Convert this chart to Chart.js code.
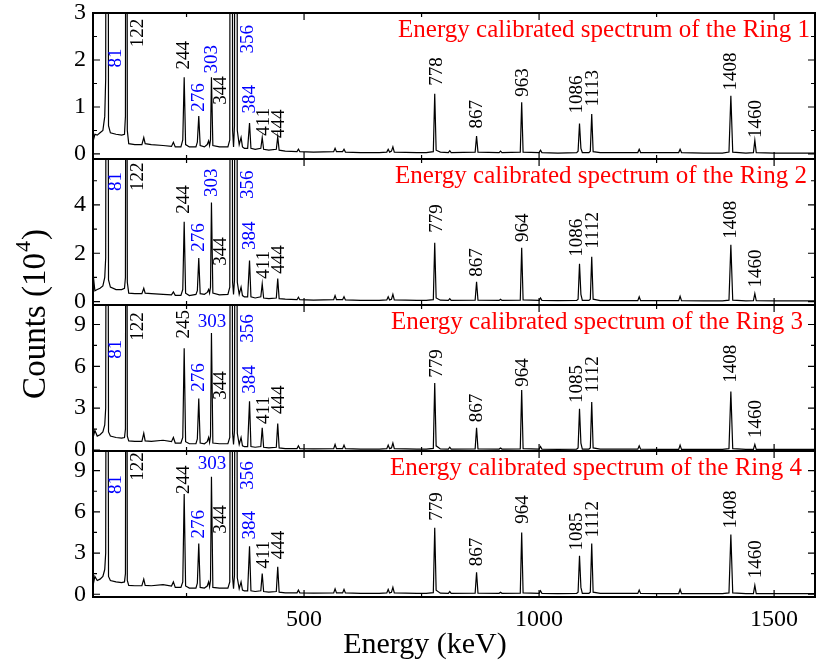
<!DOCTYPE html>
<html>
<head>
<meta charset="utf-8">
<script src="https://cdn.jsdelivr.net/npm/chart.js@4.4.0/dist/chart.umd.min.js"></script>
<style>
  html, body { margin: 0; padding: 0; background: #fff; }
  #wrap { width: 816px; height: 665px; }
</style>
</head>
<body>
<div id="wrap"><canvas id="spectra" width="816" height="665"></canvas></div>
<script>
// energy axis (keV), shared by the four rings
const energy = [
  50, 52, 55, 60, 66, 72, 76, 78, 81, 84, 88,
  100, 112, 118, 120, 122, 124, 127,
  140, 155, 159, 162, 175, 200, 218, 222, 226, 238, 242, 245, 248, 256,
  270, 273, 276, 279, 288, 294, 297, 299, 301, 303, 306, 320, 338,
  342, 345, 348, 350, 352, 355, 358, 362, 366, 369, 373,
  380, 384, 387, 396, 408, 411, 414, 425, 441, 444, 447, 460,
  485, 488, 491, 520, 563, 566, 569, 582, 585, 588, 620, 660, 676, 679, 682, 686, 689, 692, 740, 760, 775, 778, 781, 790,
  807, 810, 813, 864, 867, 870, 915, 918, 921, 960, 963, 966, 1000, 1003, 1006, 1040,
  1080, 1083, 1086, 1089, 1092, 1106, 1109, 1112, 1115, 1130,
  1170, 1210, 1213, 1216, 1260, 1297, 1300, 1303, 1350, 1390, 1404, 1408, 1412, 1440, 1456, 1459, 1462, 1500, 1540, 1590
];

// counts in units of 10^4
const ring1 = [
  0.50, 0.30, 0.42, 0.40, 0.45, 0.50, 0.80, 1.60, 25, 0.60, 0.45,
  0.42, 0.40, 0.42, 0.80, 20, 0.50, 0.22,
  0.20, 0.20, 0.35, 0.22, 0.20, 0.18, 0.16, 0.25, 0.15, 0.15, 0.30, 1.63, 0.20, 0.15,
  0.15, 0.25, 0.81, 0.18, 0.15, 0.20, 0.28, 0.18, 0.30, 1.63, 0.18, 0.15, 0.15,
  0.30, 30, 0.50, 0.15, 0.60, 40, 0.50, 0.20, 0.35, 0.15, 0.12,
  0.12, 0.66, 0.12, 0.10, 0.12, 0.35, 0.10, 0.08, 0.10, 0.37, 0.08, 0.06,
  0.05, 0.10, 0.05, 0.04, 0.05, 0.12, 0.05, 0.05, 0.10, 0.04, 0.03, 0.03, 0.04, 0.10, 0.04, 0.06, 0.15, 0.04, 0.03, 0.03, 0.05, 1.28, 0.08, 0.04,
  0.03, 0.07, 0.03, 0.04, 0.38, 0.04, 0.03, 0.06, 0.03, 0.04, 1.10, 0.04, 0.03, 0.08, 0.03, 0.02,
  0.03, 0.06, 0.65, 0.12, 0.03, 0.03, 0.06, 0.85, 0.05, 0.03,
  0.03, 0.03, 0.10, 0.03, 0.03, 0.03, 0.10, 0.03, 0.02, 0.02, 0.04, 1.24, 0.04, 0.02, 0.03, 0.29, 0.03, 0.02, 0.02, 0.02
];
const ring2 = [
  0.60, 1.00, 0.45, 0.50, 0.55, 0.65, 1.00, 1.80, 40, 0.90, 0.60,
  0.50, 0.50, 0.55, 1.00, 30, 0.80, 0.35,
  0.33, 0.33, 0.55, 0.35, 0.33, 0.30, 0.28, 0.40, 0.26, 0.26, 0.50, 3.30, 0.35, 0.25,
  0.30, 0.45, 1.80, 0.33, 0.30, 0.38, 0.50, 0.35, 0.60, 4.10, 0.35, 0.28, 0.30,
  0.60, 40, 0.80, 0.30, 0.90, 50, 0.80, 0.30, 0.60, 0.25, 0.20,
  0.20, 1.70, 0.20, 0.15, 0.20, 0.74, 0.15, 0.12, 0.15, 0.95, 0.12, 0.10,
  0.08, 0.18, 0.08, 0.06, 0.08, 0.25, 0.08, 0.08, 0.20, 0.07, 0.05, 0.05, 0.07, 0.20, 0.07, 0.10, 0.30, 0.07, 0.05, 0.05, 0.08, 2.43, 0.15, 0.06,
  0.05, 0.12, 0.05, 0.06, 0.82, 0.06, 0.05, 0.10, 0.05, 0.06, 2.23, 0.07, 0.05, 0.15, 0.05, 0.04,
  0.05, 0.10, 1.57, 0.30, 0.05, 0.05, 0.10, 1.86, 0.10, 0.04,
  0.04, 0.04, 0.20, 0.04, 0.04, 0.04, 0.22, 0.04, 0.03, 0.03, 0.06, 2.35, 0.06, 0.03, 0.04, 0.33, 0.04, 0.03, 0.03, 0.03
];
const ring3 = [
  2.20, 1.00, 1.40, 1.00, 1.10, 1.30, 1.80, 3.00, 60, 1.30, 1.00,
  0.90, 0.85, 0.90, 1.50, 50, 1.00, 0.65,
  0.62, 0.62, 1.20, 0.65, 0.62, 0.70, 0.60, 0.90, 0.50, 0.50, 0.90, 7.30, 0.60, 0.45,
  0.45, 0.80, 3.70, 0.50, 0.45, 0.60, 0.90, 0.55, 1.00, 8.40, 0.50, 0.45, 0.45,
  0.90, 60, 1.20, 0.40, 1.40, 70, 1.20, 0.40, 0.90, 0.30, 0.25,
  0.25, 3.50, 0.25, 0.20, 0.25, 1.60, 0.20, 0.15, 0.20, 1.90, 0.15, 0.10,
  0.10, 0.30, 0.10, 0.08, 0.10, 0.40, 0.10, 0.10, 0.35, 0.10, 0.07, 0.07, 0.10, 0.35, 0.10, 0.15, 0.50, 0.10, 0.07, 0.07, 0.12, 4.80, 0.30, 0.08,
  0.07, 0.20, 0.07, 0.08, 1.60, 0.08, 0.07, 0.15, 0.07, 0.08, 4.30, 0.10, 0.07, 0.25, 0.07, 0.05,
  0.07, 0.15, 2.95, 0.50, 0.07, 0.07, 0.15, 3.45, 0.15, 0.06,
  0.06, 0.06, 0.30, 0.06, 0.05, 0.05, 0.35, 0.05, 0.04, 0.04, 0.10, 4.20, 0.10, 0.04, 0.05, 0.40, 0.05, 0.04, 0.04, 0.04
];
const ring4 = [
  2.00, 0.80, 1.30, 1.00, 1.10, 1.30, 1.80, 3.00, 60, 1.30, 1.00,
  0.90, 0.85, 0.90, 1.50, 50, 1.00, 0.65,
  0.62, 0.62, 1.10, 0.65, 0.62, 0.70, 0.60, 0.90, 0.50, 0.50, 0.90, 7.30, 0.60, 0.45,
  0.45, 0.80, 3.70, 0.50, 0.45, 0.60, 0.90, 0.55, 1.00, 8.55, 0.50, 0.45, 0.45,
  0.90, 60, 1.20, 0.40, 1.40, 70, 1.20, 0.40, 0.90, 0.30, 0.25,
  0.25, 3.50, 0.25, 0.20, 0.25, 1.50, 0.20, 0.15, 0.20, 2.00, 0.15, 0.10,
  0.10, 0.30, 0.10, 0.08, 0.10, 0.40, 0.10, 0.10, 0.35, 0.10, 0.07, 0.07, 0.10, 0.35, 0.10, 0.15, 0.50, 0.10, 0.07, 0.07, 0.12, 4.85, 0.30, 0.08,
  0.07, 0.20, 0.07, 0.08, 1.60, 0.08, 0.07, 0.15, 0.07, 0.08, 4.50, 0.10, 0.07, 0.25, 0.07, 0.05,
  0.07, 0.15, 2.80, 0.50, 0.07, 0.07, 0.15, 3.70, 0.15, 0.06,
  0.06, 0.06, 0.30, 0.06, 0.05, 0.05, 0.35, 0.05, 0.04, 0.04, 0.10, 4.35, 0.10, 0.04, 0.05, 0.65, 0.05, 0.04, 0.04, 0.04
];

// axes
const xTicks = [500, 1000, 1500];
const yTicks1 = [0, 1, 2, 3];
const yTicks2 = [0, 2, 4];
const yTicks3 = [0, 3, 6, 9];
const yTicks4 = [0, 3, 6, 9];
const ringNames = ['Ring 1', 'Ring 2', 'Ring 3', 'Ring 4'];

// peak labels: energy where the label sits, text, and the height of its foot
const labelE = [101, 146, 245, 277, 304, 324, 381, 384, 414, 446, 782, 868, 966, 1080, 1114, 1408, 1462];
const labelBlue = [0, 3, 4, 6, 7];
const labels1 = ['81', '122', '244', '276', '303', '344', '356', '384', '411', '444', '778', '867', '963', '1086', '1113', '1408', '1460'];
const labels2 = ['81', '122', '244', '276', '303', '344', '356', '384', '411', '444', '779', '867', '964', '1086', '1112', '1408', '1460'];
const labels3 = ['81', '122', '245', '276', '303', '344', '356', '384', '411', '444', '779', '867', '964', '1085', '1112', '1408', '1460'];
const labels4 = ['81', '122', '244', '276', '303', '344', '356', '384', '411', '444', '779', '867', '964', '1085', '1112', '1408', '1460'];
const labelY1 = [1.84, 2.27, 1.80, 0.90, 1.71, 1.05, 2.14, 0.86, 0.39, 0.34, 1.45, 0.54, 1.22, 0.86, 1.01, 1.35, 0.34];
const labelY2 = [4.58, 4.58, 3.63, 2.06, 4.33, 1.48, 4.25, 2.14, 0.95, 1.15, 2.85, 1.03, 2.47, 1.86, 2.19, 2.60, 0.58];
const labelY3 = [6.55, 7.84, 7.99, 4.17, 9.20, 3.60, 7.70, 4.03, 1.87, 2.59, 5.18, 2.00, 4.53, 3.38, 4.10, 4.82, 0.86];
const labelY4 = [7.30, 8.26, 7.30, 4.06, 9.50, 4.40, 7.60, 3.98, 1.88, 2.54, 5.36, 2.03, 5.14, 3.19, 4.13, 4.78, 1.16];
const flatLabel = [[], [], [4], [4]];   // labels written horizontally

const rings = [ring1, ring2, ring3, ring4];
const yTicks = [yTicks1, yTicks2, yTicks3, yTicks4];
const labelTexts = [labels1, labels2, labels3, labels4];
const labelYs = [labelY1, labelY2, labelY3, labelY4];
const yRange = [[-0.107, 3.0], [-0.14, 5.9], [-0.07, 10.4], [-0.2, 10.43]];
const titleRight = [810, 807, 803, 802];

const serif = '"Liberation Serif", "DejaVu Serif", serif';

const noPad = s => { s.paddingTop = 0; s.paddingBottom = 0; s.paddingLeft = 0; s.paddingRight = 0; };

const panels = {
  id: 'panels',
  beforeDatasetDraw(chart, args) {
    const ys = chart.scales[args.meta.yAxisID];
    const a = chart.chartArea;
    chart.ctx.save();
    chart.ctx.beginPath();
    chart.ctx.rect(a.left, ys.top, a.right - a.left, ys.bottom - ys.top);
    chart.ctx.clip();
  },
  afterDatasetDraw(chart) {
    chart.ctx.restore();
  },
  afterDraw(chart) {
    const ctx = chart.ctx;
    const a = chart.chartArea;
    const xs = chart.scales.x;
    const xStep = xTicks[1] - xTicks[0];
    const xMinor = xTicks.map(v => v - xStep / 2).concat([xTicks[xTicks.length - 1] + xStep / 2])
      .filter(v => v >= xs.min && v <= xs.max);

    ctx.save();
    for (let p = 0; p < 4; p++) {
      const ys = chart.scales['y' + (p + 1)];
      const top = ys.top, bot = ys.bottom;

      // ticks
      ctx.strokeStyle = '#000';
      ctx.lineWidth = 1.2;
      ctx.beginPath();
      const step = yTicks[p][1] - yTicks[p][0];
      const yMinor = yTicks[p].map(v => v + step / 2).filter(v => v <= ys.max);
      const yTick = (v, len) => {
        const y = ys.getPixelForValue(v);
        ctx.moveTo(a.left, y); ctx.lineTo(a.left + len, y);
        ctx.moveTo(a.right, y); ctx.lineTo(a.right - len, y);
      };
      yTicks[p].forEach(v => yTick(v, 7));
      yMinor.forEach(v => yTick(v, 4));
      const xTick = (v, len) => {
        const x = xs.getPixelForValue(v);
        ctx.moveTo(x, bot); ctx.lineTo(x, bot - len);
        ctx.moveTo(x, top); ctx.lineTo(x, top + len);
      };
      xTicks.forEach(v => xTick(v, 7));
      xMinor.forEach(v => xTick(v, 4));
      ctx.stroke();

      // frame
      ctx.lineWidth = 2;
      ctx.strokeRect(a.left, top, a.right - a.left, bot - top);

      // peak labels
      ctx.font = '19px ' + serif;
      labelTexts[p].forEach((t, i) => {
        ctx.fillStyle = labelBlue.includes(i) ? '#0000ff' : '#000';
        const x = xs.getPixelForValue(labelE[i]);
        const y = ys.getPixelForValue(labelYs[p][i]);
        if (flatLabel[p].includes(i)) {
          ctx.textAlign = 'center';
          ctx.textBaseline = 'middle';
          ctx.fillText(t, x, y);
        } else {
          ctx.save();
          ctx.translate(x, y);
          ctx.rotate(-Math.PI / 2);
          ctx.textAlign = 'left';
          ctx.textBaseline = 'middle';
          ctx.fillText(t, 0, 0);
          ctx.restore();
        }
      });

      // panel title
      ctx.fillStyle = '#ff0000';
      ctx.font = '25px ' + serif;
      ctx.textAlign = 'right';
      ctx.textBaseline = 'alphabetic';
      ctx.fillText('Energy calibrated spectrum of the ' + ringNames[p], titleRight[p], top + 24);
    }

    // axis titles
    ctx.fillStyle = '#000';
    ctx.font = '30px ' + serif;
    ctx.textAlign = 'center';
    ctx.textBaseline = 'alphabetic';
    ctx.fillText('Energy (keV)', 425, 653);

    ctx.save();
    ctx.translate(45, 314);
    ctx.rotate(-Math.PI / 2);
    ctx.textAlign = 'left';
    const main = 'Counts (10';
    ctx.font = '33px ' + serif;
    const w1 = ctx.measureText(main).width;
    const w3 = ctx.measureText(')').width;
    ctx.font = '22px ' + serif;
    const w2 = ctx.measureText('4').width + 2;
    const x0 = -(w1 + w2 + w3) / 2;
    ctx.font = '33px ' + serif;
    ctx.fillText(main, x0, 0);
    ctx.font = '22px ' + serif;
    ctx.fillText('4', x0 + w1 + 1, -15);
    ctx.font = '33px ' + serif;
    ctx.fillText(')', x0 + w1 + w2, 0);
    ctx.restore();

    ctx.restore();
  }
};

function yScale(p) {
  return {
    type: 'linear',
    position: 'left',
    stack: 'rings',
    stackWeight: 1,
    min: yRange[p][0],
    max: yRange[p][1],
    grid: { display: false, drawTicks: false },
    border: { display: false },
    afterBuildTicks: s => { s.ticks = yTicks[p].map(v => ({ value: v })); },
    afterFit: s => { s.width = 93; noPad(s); },
    ticks: {
      color: '#000',
      padding: 7,
      autoSkip: false,
      font: { family: serif, size: 24 },
      callback: v => String(v)
    }
  };
}

new Chart(document.getElementById('spectra'), {
  type: 'line',
  data: {
    datasets: rings.map((r, p) => ({
      label: ringNames[p],
      yAxisID: 'y' + (p + 1),
      data: energy.map((e, i) => ({ x: e, y: r[i] })),
      borderColor: '#000',
      borderWidth: 1.2,
      pointRadius: 0,
      tension: 0,
      fill: false
    }))
  },
  options: {
    responsive: false,
    animation: false,
    devicePixelRatio: 1,
    layout: { padding: { top: 13, right: 1, left: 0, bottom: 0 } },
    plugins: { legend: { display: false }, tooltip: { enabled: false } },
    scales: {
      x: {
        type: 'linear',
        position: 'bottom',
        min: 51,
        max: 1587,
        grid: { display: false, drawTicks: false },
        border: { display: false },
        afterBuildTicks: s => { s.ticks = xTicks.map(v => ({ value: v })); },
        afterFit: s => { s.height = 68; noPad(s); },
        ticks: {
          color: '#000',
          padding: 8,
          maxRotation: 0,
          autoSkip: false,
          font: { family: serif, size: 24 },
          callback: v => String(v)
        }
      },
      y4: yScale(3),
      y3: yScale(2),
      y2: yScale(1),
      y1: yScale(0)
    }
  },
  plugins: [panels]
});
</script>
</body>
</html>
